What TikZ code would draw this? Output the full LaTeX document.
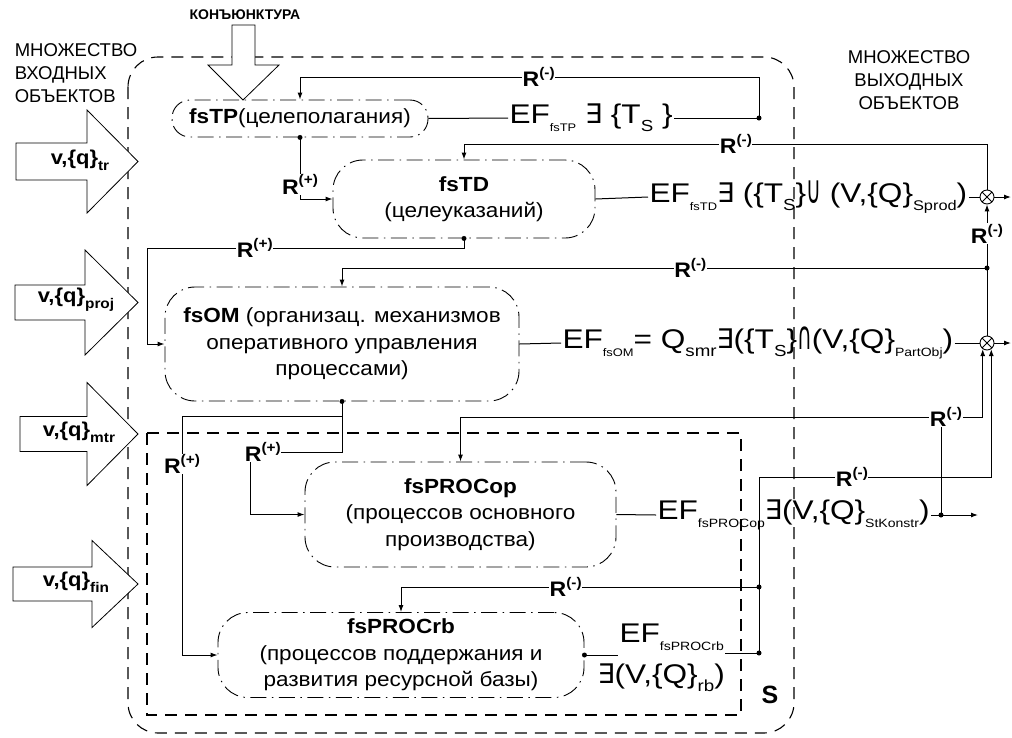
\documentclass[tikz,border=0pt]{standalone}
\usepackage{fontspec}
\setmainfont{Liberation Sans}
\newfontfamily\symfont{DejaVu Sans}
\newfontfamily\widefont[FakeStretch=1.1]{Liberation Sans}
\newfontfamily\effont[FakeStretch=1.17]{Liberation Sans}
\usetikzlibrary{arrows.meta,positioning,calc}

% subscripts, R-labels and the set signs
\newcommand{\ssub}[2][11]{\raisebox{-0.3em}{\fontsize{#1}{#1}\selectfont #2}}
\newcommand{\rsup}[1]{\textbf{R}\raisebox{0.45em}{\fontsize{14}{14}\selectfont\bfseries #1}}
\newcommand{\ex}{{\symfont ∃}}
\newcommand{\setop}[1]{\raisebox{-0.05em}{\scalebox{0.75}[1.45]{\symfont #1}}}

\begin{document}
\begin{tikzpicture}[x=1pt,y=-1pt,
    fsbox/.style={draw,rounded corners=30pt,dash pattern=on 16pt off 5.5pt on 1.5pt off 5.5pt,
      line width=0.9pt,align=center,inner sep=0pt,font=\widefont\fontsize{20.5}{26.5}\selectfont},
    eftext/.style={anchor=west,inner sep=1pt,font=\effont\fontsize{27}{27}\selectfont},
    rlab/.style={fill=white,inner sep=0.5pt,font=\widefont\fontsize{21}{21}\selectfont},
    vlab/.style={font=\widefont\bfseries\fontsize{20}{20}\selectfont},
    blockarrow/.style={draw,fill=white,line width=0.8pt},
    setbox/.style={draw,dash pattern=on 12pt off 8pt,line width=1.1pt},
    mult/.style={circle,draw,fill=white,minimum size=14pt,inner sep=0pt,line width=0.9pt,
      path picture={\draw[line width=0.8pt] (path picture bounding box.south west) -- (path picture bounding box.north east)
        (path picture bounding box.north west) -- (path picture bounding box.south east);}},
    every path/.style={line width=1pt},
    >={Latex[length=7pt,width=5pt]}
  ]
  \useasboundingbox (0,0) rectangle (1012,737);
  % system borders
  \draw[setbox,rounded corners=30pt] (128,57) rectangle (794,733);
  \draw[setbox] (147,433) rectangle (741,715);
  \node[font=\bfseries\fontsize{25}{25}\selectfont] (slab) at (770,695) {S};

  % titles
  \node[anchor=west,align=left,font=\fontsize{18.5}{23}\selectfont] (inset) at (11,73) {МНОЖЕСТВО\\ВХОДНЫХ\\ОБЪЕКТОВ};
  \node[align=center,font=\fontsize{18.5}{23}\selectfont] (outset) at (909,80) {МНОЖЕСТВО\\ВЫХОДНЫХ\\ОБЪЕКТОВ};
  \node[font=\bfseries\fontsize{14}{14}\selectfont] (konj) at (245,15) {КОНЪЮНКТУРА};

  % block arrows
  \draw[blockarrow] (232,25) -- (255,25) -- (255,65) -- (279,65) -- (243,100) -- (208,65) -- (232,65) -- cycle;
  \foreach \xl/\xh/\yc/\sh/\hh in {16/87/161.5/18.5/51.5, 15/85/302.5/17.5/52.5, 20/87/434/17.5/51.5, 13/92/584/17/43.5}
    \draw[blockarrow] ({\xl},{\yc-\sh}) -- ({\xh},{\yc-\sh}) -- ({\xh},{\yc-\hh}) -- (138,{\yc})
      -- ({\xh},{\yc+\hh}) -- ({\xh},{\yc+\sh}) -- ({\xl},{\yc+\sh}) -- cycle;
  \node[vlab] (vtr) at (80,160) {v,\{q\}\ssub[14]{tr}};
  \node[vlab] (vproj) at (76,300) {v,\{q\}\ssub[14]{proj}};
  \node[vlab] (vmtr) at (79,432) {v,\{q\}\ssub[14]{mtr}};
  \node[vlab] (vfin) at (76,582) {v,\{q\}\ssub[14]{fin}};

  % functional subsystems
  \node[fsbox,rounded corners=18pt,minimum width=256pt,minimum height=37pt] (tp) at (300,118.5) {\textbf{fsTP}(целеполагания)};
  \node[fsbox,minimum width=262pt,minimum height=78pt] (td) at (464,199) {\textbf{fsTD}\\(целеуказаний)};
  \node[fsbox,minimum width=354pt,minimum height=114pt] (om) at (342,344) {\textbf{fsOM} (организац. механизмов\\оперативного управления\\процессами)};
  \node[fsbox,minimum width=311pt,minimum height=105pt] (pop) at (460.5,514.5) {\textbf{fsPROCop}\\(процессов основного\\производства)};
  \node[fsbox,minimum width=366pt,minimum height=85pt] (prb) at (401,655) {\textbf{fsPROCrb}\\(процессов поддержания и\\развития ресурсной базы)};

  % effects
  \node[eftext] (ef1) at (508,118) {EF\ssub{fsTP} \ex\ \{T\ssub[16]{S} \}};
  \node[eftext] (ef2) at (648,197) {EF\ssub{fsTD}\ex\ (\{T\ssub[16]{S}\}\setop{∪} (V,\{Q\}\ssub[14]{Sprod})};
  \node[eftext] (ef3) at (561,343) {EF\ssub{fsOM}= Q\ssub[16]{smr}\ex(\{T\ssub[16]{S}\}\setop{∩}(V,\{Q\}\ssub[12]{PartObj})};
  \node[eftext] (ef4) at (656,515) {EF\ssub[12]{fsPROCop}\ex(V,\{Q\}\ssub[12]{StKonstr})};
  \node[eftext] (ef5) at (618,637) {EF\ssub[12]{fsPROCrb}};
  \node[eftext] (ex5) at (596,678) {\ex(V,\{Q\}\ssub[16]{rb})};

  % summators
  \node[mult] (xa) at (987,197) {};
  \node[mult] (xb) at (987,343) {};
  \coordinate (oa) at (1011,197);
  \coordinate (ob) at (1011,343);
  \coordinate (o4) at (978,515);

  % junctions and corners
  \coordinate (d1) at (759,118);
  \coordinate (k0) at (759,77);
  \coordinate (k1) at (987,144);
  \coordinate (k2) at (147,248);
  \coordinate (j1) at (987,268);
  \coordinate (k3) at (250,452);
  \coordinate (k4) at (182,416);
  \coordinate (d4) at (941,515);
  \coordinate (j2) at (941,417);
  \coordinate (d5) at (759,653);
  \coordinate (j3) at (759,587);
  \coordinate (k5) at (759,477);

  % outputs
  \draw (tp.east) -- (ef1.west);
  \draw (ef1.east) -- (d1);
  \draw (td.east) -- (ef2.west);
  \draw (ef2.east) -- (xa.west);
  \draw (om.east) -- (ef3.west);
  \draw (ef3.east) -- (xb.west);
  \draw (pop.east) -- (ef4.west);
  \draw (ef4.east) -- (d4);
  \draw (prb.east) -- (ef5.west |- prb.east);
  \draw (ef5.east |- d5) -- (d5);
  \draw[->] (xa.east) -- (oa);
  \draw[->] (xb.east) -- (ob);
  \draw[->] (d4) -- (o4);

  % positive links
  \draw[->] (tp.south) |- node[rlab,pos=0.38]{\rsup{(+)}} (td.west);
  \draw[->] (td.south) |- node[rlab,pos=0.83]{\rsup{(+)}} (k2) |- (om.west);
  \draw[->] (om.south) |- node[rlab,pos=0.93]{\rsup{(+)}} (k3) |- (pop.west);
  \draw[->] (om.south) |- (k4) |- node[rlab,pos=0.1]{\rsup{(+)}} (prb.west);

  % negative links
  \draw[->] (d1) -- (k0) -| node[rlab,pos=0.24]{\rsup{(-)}} (tp.north);
  \draw[->] (xa.north) -- (k1) -| node[rlab,pos=0.24]{\rsup{(-)}} (td.north);
  \draw (xb.north) -- (j1);
  \draw[->] (j1) -- node[rlab,pos=0.54]{\rsup{(-)}} (xa.south);
  \draw[->] (j1) -| node[rlab,pos=0.23]{\rsup{(-)}} (om.north);
  \draw (d4) -- (j2);
  \draw[->] (j2) -| (xb.235);
  \draw[->] (j2) -| (pop.north);
  \node[rlab] (r8) at (946,417) {\rsup{(-)}};
  \draw (d5) -- (k5);
  \draw[->] (k5) -| node[rlab,pos=0.2]{\rsup{(-)}} (xb.305);
  \draw[->] (j3) -| node[rlab,pos=0.27]{\rsup{(-)}} (prb.north);

  % dots
  \foreach \p in {d1,tp.south,td.south,om.south,d4,j1,j3,d5,prb.east}
    \fill (\p) circle[radius=2.5pt];
\end{tikzpicture}
\end{document}
